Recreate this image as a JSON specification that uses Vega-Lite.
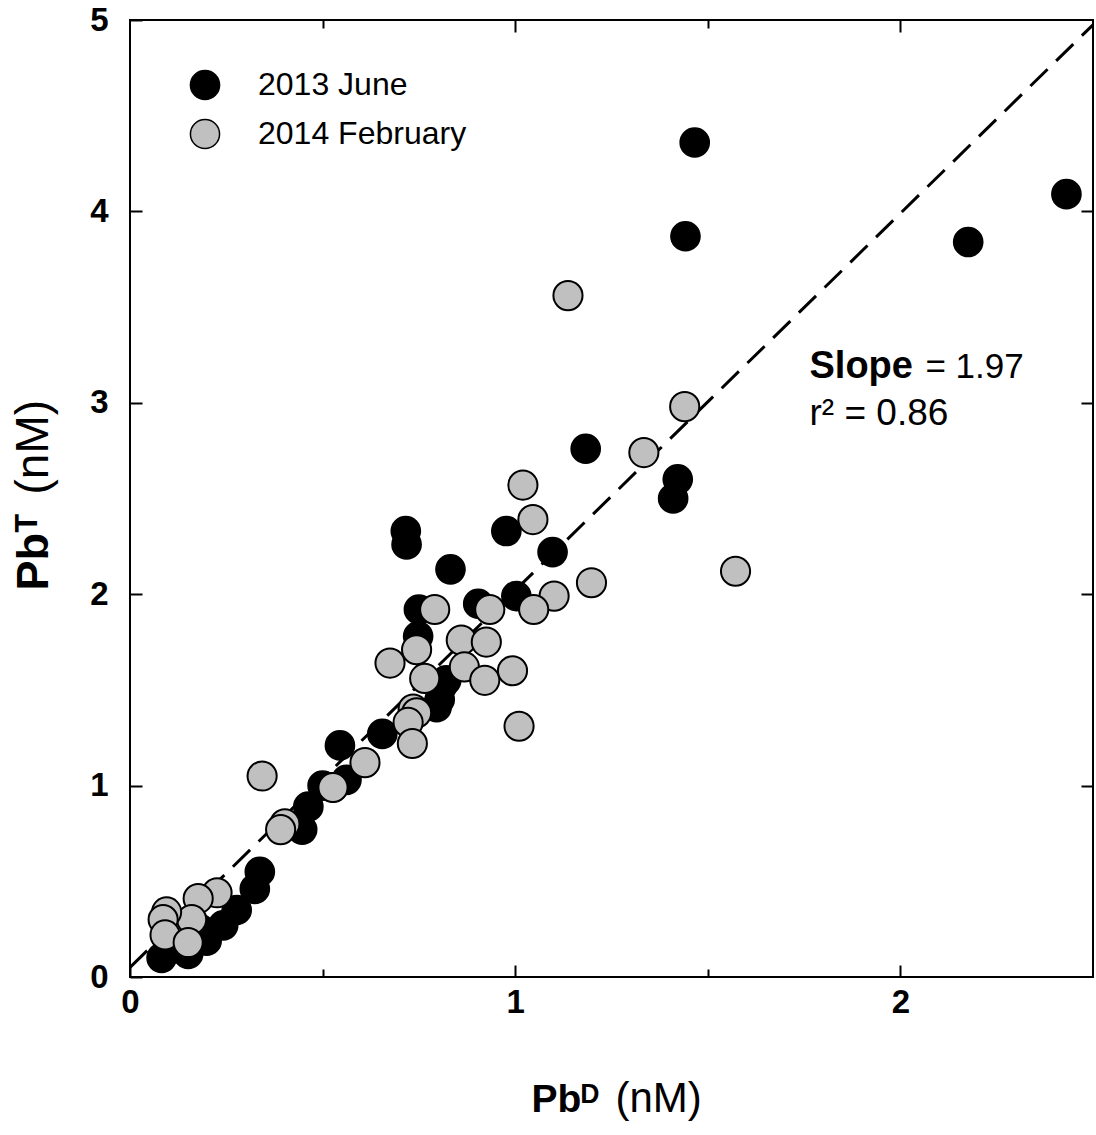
{
  "$schema": "https://vega.github.io/schema/vega-lite/v6.json",
  "width": 963,
  "height": 957,
  "autosize": {"type": "none"},
  "padding": {"left": 130, "top": 20, "right": 3, "bottom": 158},
  "background": "white",
  "config": {
    "view": {"stroke": "black", "strokeWidth": 2},
    "font": "Liberation Sans",
    "axis": {"grid": false, "domain": false, "tickColor": "black", "tickWidth": 2, "labelColor": "black", "titleColor": "black", "labelFont": "Liberation Sans", "titleFont": "Liberation Sans", "labelFlush": false, "labelOverlap": false}
  },
  "datasets": {
    "june": [
      {"pbD": 1.466, "pbT": 4.36, "campaign": "2013 June"},
      {"pbD": 1.442, "pbT": 3.87, "campaign": "2013 June"},
      {"pbD": 2.431, "pbT": 4.09, "campaign": "2013 June"},
      {"pbD": 2.176, "pbT": 3.84, "campaign": "2013 June"},
      {"pbD": 1.183, "pbT": 2.76, "campaign": "2013 June"},
      {"pbD": 1.422, "pbT": 2.60, "campaign": "2013 June"},
      {"pbD": 1.410, "pbT": 2.50, "campaign": "2013 June"},
      {"pbD": 0.716, "pbT": 2.33, "campaign": "2013 June"},
      {"pbD": 0.718, "pbT": 2.26, "campaign": "2013 June"},
      {"pbD": 0.832, "pbT": 2.13, "campaign": "2013 June"},
      {"pbD": 0.977, "pbT": 2.33, "campaign": "2013 June"},
      {"pbD": 1.097, "pbT": 2.22, "campaign": "2013 June"},
      {"pbD": 0.750, "pbT": 1.92, "campaign": "2013 June"},
      {"pbD": 0.904, "pbT": 1.95, "campaign": "2013 June"},
      {"pbD": 1.003, "pbT": 1.99, "campaign": "2013 June"},
      {"pbD": 0.748, "pbT": 1.78, "campaign": "2013 June"},
      {"pbD": 0.810, "pbT": 1.52, "campaign": "2013 June"},
      {"pbD": 0.821, "pbT": 1.55, "campaign": "2013 June"},
      {"pbD": 0.804, "pbT": 1.45, "campaign": "2013 June"},
      {"pbD": 0.796, "pbT": 1.41, "campaign": "2013 June"},
      {"pbD": 0.655, "pbT": 1.27, "campaign": "2013 June"},
      {"pbD": 0.545, "pbT": 1.21, "campaign": "2013 June"},
      {"pbD": 0.562, "pbT": 1.03, "campaign": "2013 June"},
      {"pbD": 0.500, "pbT": 1.00, "campaign": "2013 June"},
      {"pbD": 0.527, "pbT": 0.99, "campaign": "2013 June"},
      {"pbD": 0.463, "pbT": 0.89, "campaign": "2013 June"},
      {"pbD": 0.447, "pbT": 0.77, "campaign": "2013 June"},
      {"pbD": 0.337, "pbT": 0.55, "campaign": "2013 June"},
      {"pbD": 0.324, "pbT": 0.46, "campaign": "2013 June"},
      {"pbD": 0.277, "pbT": 0.35, "campaign": "2013 June"},
      {"pbD": 0.242, "pbT": 0.27, "campaign": "2013 June"},
      {"pbD": 0.199, "pbT": 0.19, "campaign": "2013 June"},
      {"pbD": 0.182, "pbT": 0.25, "campaign": "2013 June"},
      {"pbD": 0.120, "pbT": 0.15, "campaign": "2013 June"},
      {"pbD": 0.082, "pbT": 0.10, "campaign": "2013 June"},
      {"pbD": 0.151, "pbT": 0.12, "campaign": "2013 June"}
    ],
    "february": [
      {"pbD": 1.137, "pbT": 3.56, "campaign": "2014 February"},
      {"pbD": 1.440, "pbT": 2.98, "campaign": "2014 February"},
      {"pbD": 1.334, "pbT": 2.74, "campaign": "2014 February"},
      {"pbD": 1.020, "pbT": 2.57, "campaign": "2014 February"},
      {"pbD": 1.046, "pbT": 2.39, "campaign": "2014 February"},
      {"pbD": 1.198, "pbT": 2.06, "campaign": "2014 February"},
      {"pbD": 1.572, "pbT": 2.12, "campaign": "2014 February"},
      {"pbD": 0.791, "pbT": 1.92, "campaign": "2014 February"},
      {"pbD": 0.934, "pbT": 1.92, "campaign": "2014 February"},
      {"pbD": 1.101, "pbT": 1.99, "campaign": "2014 February"},
      {"pbD": 1.048, "pbT": 1.92, "campaign": "2014 February"},
      {"pbD": 0.744, "pbT": 1.71, "campaign": "2014 February"},
      {"pbD": 0.860, "pbT": 1.76, "campaign": "2014 February"},
      {"pbD": 0.925, "pbT": 1.75, "campaign": "2014 February"},
      {"pbD": 0.675, "pbT": 1.64, "campaign": "2014 February"},
      {"pbD": 0.868, "pbT": 1.62, "campaign": "2014 February"},
      {"pbD": 0.921, "pbT": 1.55, "campaign": "2014 February"},
      {"pbD": 0.993, "pbT": 1.60, "campaign": "2014 February"},
      {"pbD": 0.765, "pbT": 1.56, "campaign": "2014 February"},
      {"pbD": 1.010, "pbT": 1.31, "campaign": "2014 February"},
      {"pbD": 0.735, "pbT": 1.40, "campaign": "2014 February"},
      {"pbD": 0.744, "pbT": 1.38, "campaign": "2014 February"},
      {"pbD": 0.722, "pbT": 1.33, "campaign": "2014 February"},
      {"pbD": 0.733, "pbT": 1.22, "campaign": "2014 February"},
      {"pbD": 0.610, "pbT": 1.12, "campaign": "2014 February"},
      {"pbD": 0.343, "pbT": 1.05, "campaign": "2014 February"},
      {"pbD": 0.527, "pbT": 0.99, "campaign": "2014 February"},
      {"pbD": 0.402, "pbT": 0.80, "campaign": "2014 February"},
      {"pbD": 0.391, "pbT": 0.77, "campaign": "2014 February"},
      {"pbD": 0.226, "pbT": 0.44, "campaign": "2014 February"},
      {"pbD": 0.177, "pbT": 0.41, "campaign": "2014 February"},
      {"pbD": 0.160, "pbT": 0.30, "campaign": "2014 February"},
      {"pbD": 0.095, "pbT": 0.34, "campaign": "2014 February"},
      {"pbD": 0.086, "pbT": 0.30, "campaign": "2014 February"},
      {"pbD": 0.091, "pbT": 0.22, "campaign": "2014 February"},
      {"pbD": 0.151, "pbT": 0.18, "campaign": "2014 February"}
    ],
    "fit": [
      {"pbD": 0, "pbT": 0.05},
      {"pbD": 2.5, "pbT": 4.975}
    ]
  },
  "resolve": {"axis": {"x": "independent", "y": "independent"}},
  "layer": [
    {
      "data": {"name": "fit"},
      "mark": {"type": "line", "color": "black", "strokeWidth": 3, "strokeDash": [24, 12], "clip": true},
      "encoding": {
        "x": {"field": "pbD", "type": "quantitative", "scale": {"domain": [0, 2.5], "nice": false, "zero": false},
          "axis": {"orient": "bottom", "values": [0, 1, 2], "tickSize": -12, "labelFontSize": 33, "labelFontWeight": "bold", "labelPadding": 21,
            "title": "Pbᴰ", "titleFontSize": 39, "titleFontWeight": "bold", "titleAlign": "left", "titleBaseline": "alphabetic", "titleAnchor": "start", "titleX": 401, "titleY": 134}},
        "y": {"field": "pbT", "type": "quantitative", "scale": {"domain": [0, 5], "nice": false, "zero": false},
          "axis": {"orient": "left", "values": [0, 1, 2, 3, 4, 5], "tickSize": -12, "labelFontSize": 33, "labelFontWeight": "bold", "labelPadding": 34,
            "title": "Pbᵀ", "titleFontSize": 45, "titleFontWeight": "bold", "titleAngle": 270, "titleAlign": "left", "titleBaseline": "alphabetic", "titleAnchor": "start", "titleX": -83, "titleY": 570}}
      }
    },
    {
      "data": {"name": "june"},
      "mark": {"type": "point", "shape": "circle", "filled": true, "size": 850, "stroke": "black", "strokeWidth": 1.5, "opacity": 1},
      "encoding": {
        "x": {"field": "pbD", "type": "quantitative", "scale": {"domain": [0, 2.5], "nice": false, "zero": false},
          "axis": {"orient": "top", "values": [1, 2], "tickSize": -12, "labels": false, "title": null}},
        "y": {"field": "pbT", "type": "quantitative", "scale": {"domain": [0, 5], "nice": false, "zero": false},
          "axis": {"orient": "right", "values": [1, 2, 3, 4], "tickSize": -12, "labels": false, "title": null}},
        "color": {"field": "campaign", "type": "nominal",
          "scale": {"domain": ["2013 June", "2014 February"], "range": ["#000000", "#c0c0c0"]},
          "legend": {"orient": "none", "legendX": 59, "legendY": 49, "title": null, "padding": 0, "symbolType": "circle", "symbolSize": 850, "symbolStrokeColor": "black", "symbolStrokeWidth": 1.5, "labelFont": "Liberation Sans", "labelFontSize": 32, "labelColor": "black", "labelOffset": 37, "labelLimit": 500, "rowPadding": 13}}
      }
    },
    {
      "data": {"name": "february"},
      "mark": {"type": "point", "shape": "circle", "filled": true, "size": 850, "stroke": "black", "strokeWidth": 2, "opacity": 1},
      "encoding": {
        "x": {"field": "pbD", "type": "quantitative", "scale": {"domain": [0, 2.5], "nice": false, "zero": false},
          "axis": {"orient": "bottom", "ticks": false, "labels": false, "title": "(nM)", "titleFontSize": 42, "titleFontWeight": "normal", "titleAlign": "left", "titleBaseline": "alphabetic", "titleAnchor": "start", "titleX": 485, "titleY": 134}},
        "y": {"field": "pbT", "type": "quantitative", "scale": {"domain": [0, 5], "nice": false, "zero": false},
          "axis": {"orient": "left", "ticks": false, "labels": false, "title": "(nM)", "titleFontSize": 46, "titleFontWeight": "normal", "titleAngle": 270, "titleAlign": "left", "titleBaseline": "alphabetic", "titleAnchor": "start", "titleX": -83, "titleY": 474}},
        "color": {"field": "campaign", "type": "nominal",
          "scale": {"domain": ["2013 June", "2014 February"], "range": ["#000000", "#c0c0c0"]},
          "legend": {"orient": "none", "legendX": 59, "legendY": 49, "title": null, "padding": 0, "symbolType": "circle", "symbolSize": 850, "symbolStrokeColor": "black", "symbolStrokeWidth": 1.5, "labelFont": "Liberation Sans", "labelFontSize": 32, "labelColor": "black", "labelOffset": 37, "labelLimit": 500, "rowPadding": 13}}
      }
    },
    {
      "data": {"values": [{"pbD": 1.764, "pbT": 3.13, "label": "Slope"}]},
      "mark": {"type": "text", "align": "left", "baseline": "alphabetic", "font": "Liberation Sans", "fontSize": 38, "fontWeight": "bold", "color": "black"},
      "encoding": {
        "x": {"field": "pbD", "type": "quantitative", "scale": {"domain": [0, 2.5], "nice": false, "zero": false},
          "axis": {"orient": "bottom", "values": [0.5, 1.5], "tickSize": -8, "labels": false, "title": null}},
        "y": {"field": "pbT", "type": "quantitative", "scale": {"domain": [0, 5], "nice": false, "zero": false}, "axis": null},
        "text": {"field": "label"}
      }
    },
    {
      "data": {"values": [{"pbD": 2.065, "pbT": 3.13, "label": "= 1.97"}]},
      "mark": {"type": "text", "align": "left", "baseline": "alphabetic", "font": "Liberation Sans", "fontSize": 35, "fontWeight": "normal", "color": "black"},
      "encoding": {
        "x": {"field": "pbD", "type": "quantitative", "scale": {"domain": [0, 2.5], "nice": false, "zero": false},
          "axis": {"orient": "top", "values": [0.5, 1.5], "tickSize": -8, "labels": false, "title": null}},
        "y": {"field": "pbT", "type": "quantitative", "scale": {"domain": [0, 5], "nice": false, "zero": false}, "axis": null},
        "text": {"field": "label"}
      }
    },
    {
      "data": {"values": [{"pbD": 1.764, "pbT": 2.884, "label": "r² = 0.86"}]},
      "mark": {"type": "text", "align": "left", "baseline": "alphabetic", "font": "Liberation Sans", "fontSize": 37, "fontWeight": "normal", "color": "black"},
      "encoding": {
        "x": {"field": "pbD", "type": "quantitative", "scale": {"domain": [0, 2.5], "nice": false, "zero": false}, "axis": null},
        "y": {"field": "pbT", "type": "quantitative", "scale": {"domain": [0, 5], "nice": false, "zero": false}, "axis": null},
        "text": {"field": "label"}
      }
    }
  ]
}
